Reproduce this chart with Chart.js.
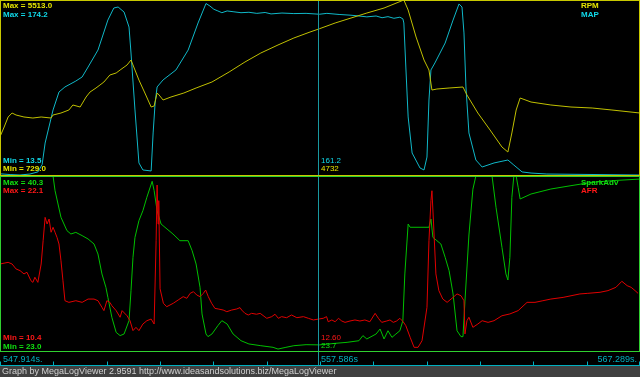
<!DOCTYPE html>
<html><head><meta charset="utf-8">
<script src="https://cdn.jsdelivr.net/npm/chart.js@4/dist/chart.umd.min.js"></script>
<style>html,body{margin:0;padding:0;background:#000;overflow:hidden}#wrap{position:relative;width:640px;height:377px}canvas{display:block}</style>
</head><body><div id="wrap"><canvas id="c" width="640" height="377"></canvas></div>
<script>
// ---- data (time in seconds) ----
const rpmTime=[547.91,548.04,548.16,548.28,548.40,548.64,548.91,549.16,549.46,549.52,549.76,550.00,550.12,550.34,550.52,550.64,550.82,550.94,551.06,551.24,551.43,551.55,551.76,551.88,551.94,552.12,552.30,552.49,552.58,552.67,552.73,552.85,553.09,553.48,553.85,554.33,554.85,555.33,555.81,556.33,556.81,557.30,557.586,558.06,558.54,559.02,559.54,560.14,560.27,560.51,560.75,560.90,560.99,561.14,561.51,561.93,562.05,562.38,562.75,563.11,563.29,563.41,563.54,563.66,563.99,564.59,565.20,565.84,566.44,567.29];
const rpmValues=[1789,2061,2333,2441,2387,2333,2305,2333,2305,2387,2441,2523,2659,2604,2876,3012,3121,3202,3284,3474,3529,3610,3746,3882,3746,3338,2985,2604,2632,2985,2931,2795,2876,2985,3121,3284,3556,3828,4072,4290,4480,4643,4732,4888,5023,5159,5295,5513,5241,4507,3882,3610,3066,3093,3121,3148,2931,2441,1979,1517,1381,1898,2523,2849,2740,2659,2604,2577,2523,2441];
const mapTime=[547.91,548.22,548.52,548.82,549.06,549.19,549.28,549.52,549.70,549.88,550.21,550.40,550.58,550.88,551.18,551.36,551.49,551.67,551.82,551.88,552.00,552.12,552.24,552.49,552.55,552.61,552.67,552.85,553.24,553.61,553.91,554.15,554.27,554.39,554.51,554.63,554.79,554.97,555.21,555.45,555.69,555.94,556.12,556.45,556.81,557.18,557.586,557.81,558.18,558.54,558.78,559.02,559.30,559.48,559.66,559.84,560.02,560.11,560.14,560.20,560.27,560.39,560.63,560.75,560.84,560.90,560.96,561.08,561.39,561.63,561.81,561.90,561.96,562.02,562.11,562.32,562.51,562.87,563.29,563.47,563.72,563.99,564.47,567.29];
const mapValues=[15.5,14.8,14.4,15.3,17.2,24.0,43.6,73.8,90.2,94.8,100.2,103.9,113.0,128.5,155.9,166.9,167.8,163.2,149.5,125.8,73.8,25.4,19.0,18.1,52.8,80.2,94.8,101.2,110.3,128.5,153.2,171.0,168.7,165.7,164.2,162.6,164.2,163.5,162.6,163.0,162.0,162.8,161.5,162.3,161.8,162.0,161.2,162.0,161.0,160.3,159.6,158.8,159.6,158.0,159.0,157.5,158.5,157.0,153.2,113.0,67.4,34.5,20.8,19.0,30.8,82.9,110.3,116.7,134.9,155.9,170.6,167.8,144.1,94.8,52.8,28.1,21.7,25.4,28.1,23.5,17.2,16.2,15.3,14.4];
const sparkTime=[547.91,549.52,549.58,549.76,549.94,550.06,550.21,550.40,550.58,550.76,550.88,551.00,551.12,551.18,551.30,551.43,551.55,551.67,551.82,551.88,551.94,552.00,552.12,552.24,552.36,552.52,552.58,552.67,552.79,552.97,553.15,553.36,553.61,553.73,553.85,553.97,554.03,554.15,554.21,554.33,554.51,554.63,554.79,554.97,555.21,555.45,555.81,556.18,556.33,556.57,556.81,557.18,557.586,558.06,558.42,558.78,558.90,559.02,559.30,559.42,559.54,559.66,559.78,559.90,560.02,560.11,560.17,560.27,560.33,560.90,560.96,561.02,561.14,561.26,561.39,561.51,561.63,561.75,561.87,561.93,561.99,562.11,562.23,562.32,562.81,562.93,563.11,563.23,563.29,563.35,563.41,563.47,563.54,563.60,563.66,563.99,564.59,565.20,565.84,566.44,567.29];
const sparkValues=[40.3,40.3,38.86,36.24,34.93,34.60,34.76,34.44,34.11,33.62,32.63,30.67,29.36,28.37,26.41,24.93,24.61,24.77,26.08,29.03,32.31,34.27,35.91,36.89,38.21,39.78,38.86,36.89,35.58,35.09,34.60,33.94,33.94,32.96,31.65,29.36,26.74,24.77,24.51,24.77,25.59,26.08,25.75,24.77,24.11,23.79,23.62,23.46,23.29,23.46,23.62,23.72,23.7,23.85,23.95,24.11,24.61,24.28,24.77,25.26,24.28,25.09,24.44,24.77,25.09,26.08,30.67,35.58,35.26,35.26,36.07,34.27,33.94,33.62,32.31,30.99,28.70,25.09,24.51,24.51,28.0,34.5,39.0,40.3,40.3,37.22,33.29,30.67,30.08,32.31,38.21,40.3,40.3,39.19,38.04,38.53,39.02,39.35,39.68,39.84,40.0];
const afrTime=[547.91,548.16,548.28,548.40,548.52,548.64,548.73,548.85,548.91,548.97,549.06,549.16,549.22,549.28,549.34,549.40,549.46,549.52,549.58,549.64,549.70,549.76,549.82,549.88,550.00,550.21,550.40,550.58,550.76,550.88,551.00,551.06,551.15,551.24,551.30,551.43,551.55,551.61,551.76,551.85,551.94,552.03,552.12,552.24,552.36,552.49,552.58,552.64,552.67,552.70,552.72,
  552.76,552.86,552.96,553.16,553.31,553.46,553.57,553.67,553.77,553.87,553.97,554.07,554.14,554.22,554.32,554.42,554.52,554.67,554.78,554.93,555.08,555.18,555.23,555.33,555.43,555.53,555.68,555.79,555.99,556.14,556.24,556.34,556.44,556.59,556.74,556.90,557.10,557.25,557.40,557.586,557.70,557.80,557.85,557.96,558.06,558.16,558.26,558.36,558.51,558.66,558.81,558.96,559.11,559.27,559.37,559.47,559.62,559.72,559.82,559.92,560.02,560.12,
  560.20,560.33,560.45,560.57,560.69,560.84,560.90,560.96,560.99,561.04,561.11,561.20,561.32,561.45,561.63,561.75,561.87,561.96,561.99,562.05,562.11,562.23,562.38,562.51,562.69,562.87,563.11,563.35,563.60,563.87,564.11,564.35,564.59,564.96,565.47,565.71,566.08,566.32,566.56,566.74,566.90,567.02,567.14,567.23];
const afrValues=[16.25,16.36,16.25,15.92,15.81,15.59,15.70,15.14,15.03,15.37,15.03,16.25,17.80,19.35,18.91,19.24,18.36,18.69,18.36,18.02,17.58,16.47,15.14,13.81,13.70,13.81,13.70,13.92,13.92,13.81,13.37,13.15,13.81,13.70,13.48,13.15,12.71,13.15,12.81,12.48,11.82,12.04,11.82,12.26,12.48,12.59,12.26,17.80,21.5,18.91,20.46,
  14.6,13.64,13.41,13.64,13.86,14.08,13.97,14.30,14.41,14.19,14.08,14.30,14.52,14.08,13.64,13.30,13.26,13.19,13.08,13.19,13.26,13.35,13.19,12.97,12.86,12.97,12.91,12.97,12.64,12.75,12.91,12.64,12.75,12.68,12.86,12.68,12.75,12.64,12.53,12.60,12.64,12.75,12.41,12.53,12.41,12.64,12.46,12.37,12.46,12.53,12.46,12.53,12.41,12.97,12.64,12.37,12.46,12.53,12.37,12.46,12.64,12.41,
  12.15,11.38,10.71,10.71,11.15,13.37,17.80,20.46,21.12,18.91,15.59,14.48,13.92,13.70,14.03,14.26,14.14,13.81,11.60,12.48,12.71,12.04,12.26,12.48,12.37,12.48,12.81,12.93,13.15,13.70,13.70,13.81,13.92,14.03,14.26,14.30,14.37,14.48,14.70,15.10,14.81,14.70,14.48,14.30];

const rangeRPM=[729.0,5513.0];
const rangeMAP=[13.5,174.2];
const rangeSpark=[23.0,40.3];
const rangeAFR=[10.4,22.1];
const timeRange=[547.914,567.289];
const cursorTime=557.586;
const cursorMAP='161.2', cursorRPM='4732', cursorAFR='12.60', cursorSpark='23.7';
const tickTimes=[547.914,549.529,551.143,552.758,554.372,555.987,557.602,559.216,560.831,562.445,564.060,565.674,567.289];
const timeLabels=['547.914s.','557.586s','567.289s.'];
const seriesNames=['RPM','MAP','SparkAdv','AFR'];
const footerText='Graph by MegaLogViewer 2.9591 http://www.ideasandsolutions.biz/MegaLogViewer';

// ---- styles ----
const COL={rpm:'#c0c000',rpmT:'#e6e600',map:'#10b8c8',mapT:'#10d8e8',spark:'#00c000',sparkT:'#10e010',afr:'#e00000',afrT:'#ff1818',
  topBorder:'#c8c800',botBorder:'#30d030',cursor:'#1898a0',axis:'#00b0c0',footBg:'#404040',footT:'#d0d0d0'};
const FONT_LBL='bold 8px "Liberation Sans", Arial, sans-serif';
const FONT_AX='9px "Liberation Sans", Arial, sans-serif';
const FONT_FOOT='9px "Liberation Sans", Arial, sans-serif';
const fmt1=v=>v.toFixed(1);

const pts=(t,v)=>t.map((x,i)=>({x:x,y:v[i]}));
const ds=(label,t,v,axis,color)=>({label,data:pts(t,v),yAxisID:axis,borderColor:color,borderWidth:1,pointRadius:0,tension:0,fill:false});
const hiddenAxis=(pos,stack,r)=>({type:'linear',position:pos,stack:stack,stackWeight:1,min:r[0],max:r[1],display:true,
  ticks:{display:false},grid:{display:false,drawTicks:false,tickLength:0},border:{display:false},title:{display:false}});

const deco={
  id:'deco',
  beforeDraw(chart){const c=chart.ctx;c.save();c.fillStyle='#000';c.fillRect(0,0,chart.width,chart.height);c.restore();},
  afterDatasetsDraw(chart){
    const c=chart.ctx,s=chart.scales,xs=s.x,tp=s.yRpm,bp=s.ySpark,W=chart.width;
    const axisY=chart.chartArea.bottom+13.5;
    c.save();
    c.lineWidth=1;
    // cursor
    const cx=Math.round(xs.getPixelForValue(cursorTime))-0.5;
    c.strokeStyle=COL.cursor;c.beginPath();c.moveTo(cx,tp.top);c.lineTo(cx,axisY);c.stroke();
    // panel borders
    c.strokeStyle=COL.topBorder;c.strokeRect(0.5,tp.top+0.5,W-1,tp.bottom-tp.top-1);
    c.strokeStyle=COL.botBorder;c.strokeRect(0.5,bp.top+0.5,W-1,bp.bottom-bp.top-1);
    // labels
    c.font=FONT_LBL;c.textBaseline='alphabetic';c.textAlign='left';
    const txt=(t,x,y,col)=>{c.fillStyle=col;c.fillText(t,x,y);};
    txt('Max = '+fmt1(rangeRPM[1]),3,tp.top+7.5,COL.rpmT);
    txt('Max = '+fmt1(rangeMAP[1]),3,tp.top+17,COL.mapT);
    txt('Min = '+fmt1(rangeMAP[0]),3,tp.bottom-13.5,COL.mapT);
    txt('Min = '+fmt1(rangeRPM[0]),3,tp.bottom-4.8,COL.rpmT);
    txt(seriesNames[0],581,tp.top+8.3,COL.rpmT);
    txt(seriesNames[1],581,tp.top+17.3,COL.mapT);
    txt('Max = '+fmt1(rangeSpark[1]),3,bp.top+8.8,COL.sparkT);
    txt('Max = '+fmt1(rangeAFR[1]),3,bp.top+17.3,COL.afrT);
    txt('Min = '+fmt1(rangeAFR[0]),3,bp.bottom-12.3,COL.afrT);
    txt('Min = '+fmt1(rangeSpark[0]),3,bp.bottom-3.3,COL.sparkT);
    txt(seriesNames[2],581,bp.top+9,COL.sparkT);
    txt(seriesNames[3],581,bp.top+17.3,COL.afrT);
    c.font='8px "Liberation Sans", Arial, sans-serif';
    txt(cursorMAP,cx+2.5,tp.bottom-13.5,COL.mapT);
    txt(cursorRPM,cx+2.5,tp.bottom-4.8,COL.rpmT);
    txt(cursorAFR,cx+2.5,bp.bottom-12.3,COL.afrT);
    txt(cursorSpark,cx+2.5,bp.bottom-3.8,COL.sparkT);
    // time axis
    c.strokeStyle=COL.axis;c.beginPath();c.moveTo(0,axisY);c.lineTo(W,axisY);c.stroke();
    tickTimes.forEach(t=>{const px=Math.min(W-0.5,Math.max(0.5,Math.round(xs.getPixelForValue(t))+0.5));c.beginPath();c.moveTo(px,axisY);c.lineTo(px,axisY-4);c.stroke();});
    c.font=FONT_AX;c.fillStyle=COL.axis;
    c.textAlign='left';c.fillText(timeLabels[0],3,axisY-4);
    c.fillText(timeLabels[1],cx+2.5,axisY-4);
    c.textAlign='right';c.fillText(timeLabels[2],W-3,axisY-4);
    // footer
    c.fillStyle=COL.footBg;c.fillRect(0,axisY+0.5,W,chart.height-axisY);
    c.fillStyle=COL.footT;c.font=FONT_FOOT;c.textAlign='left';c.fillText(footerText,2,chart.height-3);
    c.restore();
  }
};

new Chart(document.getElementById('c').getContext('2d'),{
  type:'line',
  data:{datasets:[
    ds('RPM',rpmTime,rpmValues,'yRpm',COL.rpm),
    ds('MAP',mapTime,mapValues,'yMap',COL.map),
    ds('AFR',afrTime,afrValues,'yAfr',COL.afr),
    ds('SparkAdv',sparkTime,sparkValues,'ySpark',COL.spark)
  ]},
  options:{
    responsive:false,animation:false,devicePixelRatio:1,
    layout:{padding:{left:0,right:0,top:0,bottom:25}},
    plugins:{legend:{display:false},tooltip:{enabled:false}},
    scales:{
      x:{type:'linear',min:timeRange[0],max:timeRange[1],display:false},
      // left stacks are laid out in reverse definition order, so the bottom panel axis comes first
      ySpark:hiddenAxis('left','L',rangeSpark),
      yRpm:hiddenAxis('left','L',rangeRPM),
      yMap:hiddenAxis('right','R',rangeMAP),
      yAfr:hiddenAxis('right','R',rangeAFR)
    }
  },
  plugins:[deco]
});
</script></body></html>
